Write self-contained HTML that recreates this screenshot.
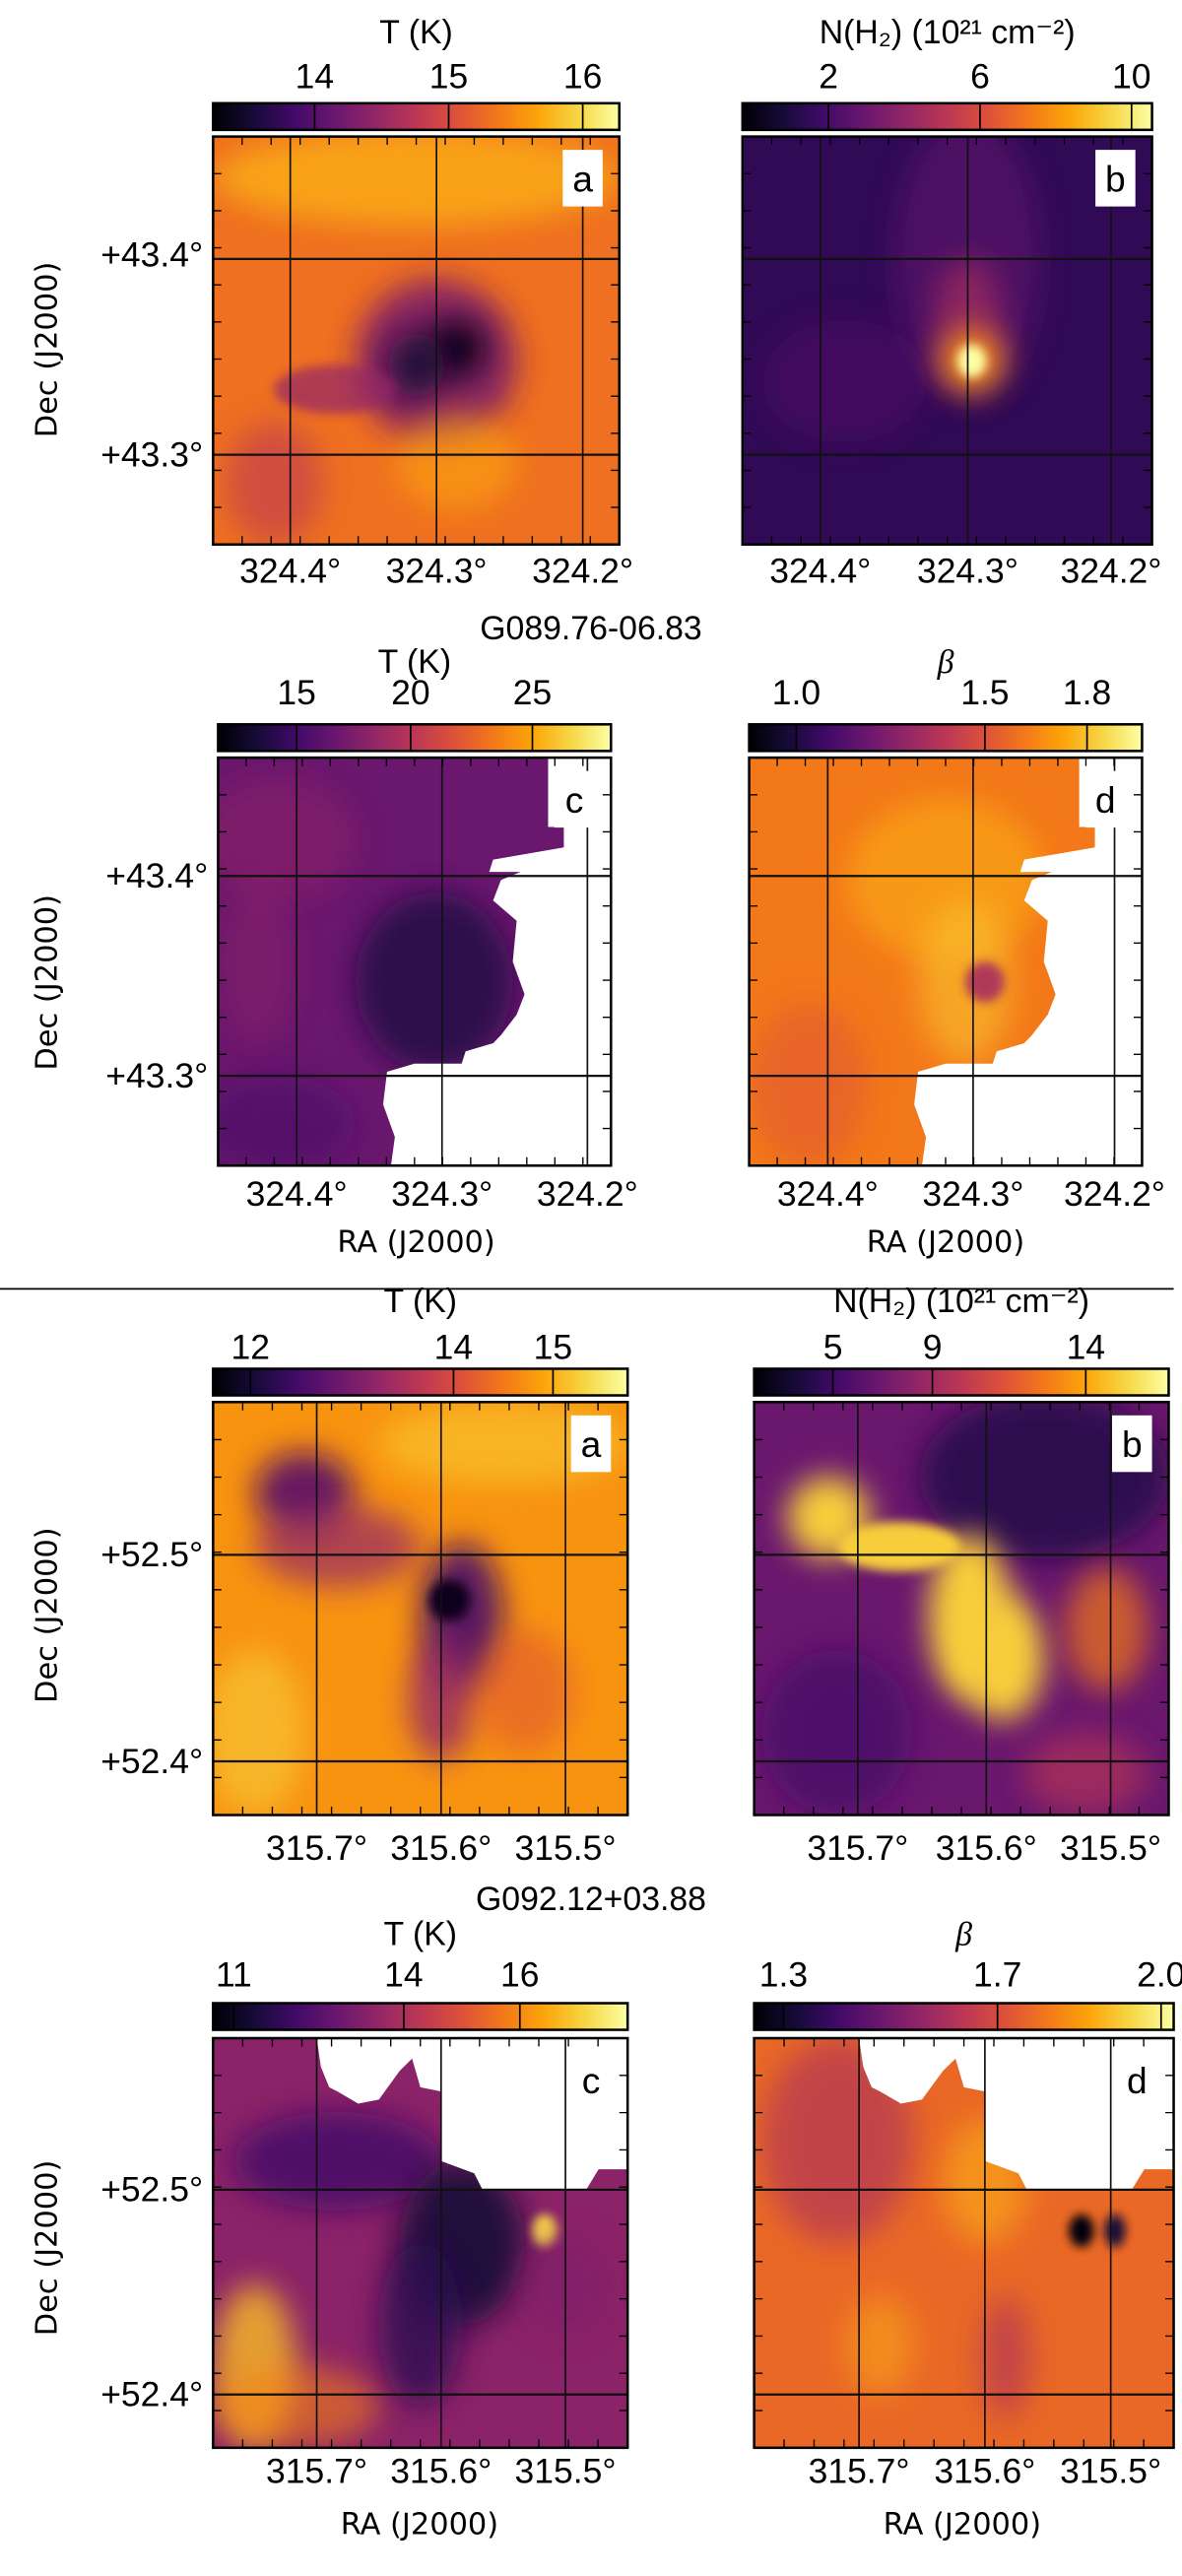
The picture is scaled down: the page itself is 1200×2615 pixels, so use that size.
<!DOCTYPE html>
<html><head><meta charset="utf-8"><style>
html,body{margin:0;padding:0;background:#fff;}
svg{display:block;}
text{font-family:"Liberation Sans Narrow","Liberation Sans",sans-serif;fill:#000;}
</style></head><body>
<svg id="fig" width="1200" height="2615" viewBox="0 0 710 1547" preserveAspectRatio="none" xmlns="http://www.w3.org/2000/svg">
<defs>
<linearGradient id="inferno" x1="0" x2="1" y1="0" y2="0">
<stop offset="0" stop-color="#000004"/><stop offset="0.1" stop-color="#160b39"/><stop offset="0.2" stop-color="#420a68"/><stop offset="0.3" stop-color="#6a176e"/><stop offset="0.4" stop-color="#932667"/><stop offset="0.5" stop-color="#bc3754"/><stop offset="0.6" stop-color="#dd513a"/><stop offset="0.7" stop-color="#f37819"/><stop offset="0.8" stop-color="#fca50a"/><stop offset="0.9" stop-color="#f6d746"/><stop offset="1" stop-color="#fcffa4"/>
</linearGradient>
<filter id="blur" x="-50%" y="-50%" width="200%" height="200%"><feGaussianBlur stdDeviation="9"/></filter>
<filter id="blur2" x="-50%" y="-50%" width="200%" height="200%"><feGaussianBlur stdDeviation="3"/></filter>
</defs>
<line x1="0" y1="774" x2="705" y2="774" stroke="#000" stroke-width="1"/>
<text x="355" y="384" font-size="20" text-anchor="middle">G089.76-06.83</text>
<text x="355" y="1147" font-size="20" text-anchor="middle">G092.12+03.88</text>
<text transform="translate(34,210) rotate(-90)" font-size="18" text-anchor="middle" style="font-family:'DejaVu Sans',sans-serif">Dec (J2000)</text>
<text transform="translate(34,590) rotate(-90)" font-size="18" text-anchor="middle" style="font-family:'DejaVu Sans',sans-serif">Dec (J2000)</text>
<text transform="translate(34,970) rotate(-90)" font-size="18" text-anchor="middle" style="font-family:'DejaVu Sans',sans-serif">Dec (J2000)</text>
<text transform="translate(34,1350) rotate(-90)" font-size="18" text-anchor="middle" style="font-family:'DejaVu Sans',sans-serif">Dec (J2000)</text>
<text x="250" y="752" font-size="18" text-anchor="middle" style="font-family:'DejaVu Sans',sans-serif">RA (J2000)</text>
<text x="568" y="752" font-size="18" text-anchor="middle" style="font-family:'DejaVu Sans',sans-serif">RA (J2000)</text>
<text x="252" y="1522" font-size="18" text-anchor="middle" style="font-family:'DejaVu Sans',sans-serif">RA (J2000)</text>
<text x="578" y="1522" font-size="18" text-anchor="middle" style="font-family:'DejaVu Sans',sans-serif">RA (J2000)</text>
</svg>
<script>
// ---- data ----
const panelNames = ["1a","1b","1c","1d","2a","2b","2c","2d"];
const panelLetters = ["a","b","c","d","a","b","c","d"];
const cbTitles = ["T (K)","N(H₂) (10²¹ cm⁻²)","T (K)","β","T (K)","N(H₂) (10²¹ cm⁻²)","T (K)","β"];
const cbTickLabels = [["14","15","16"],["2","6","10"],["15","20","25"],["1.0","1.5","1.8"],["12","14","15"],["5","9","14"],["11","14","16"],["1.3","1.7","2.0"]];
const cbTickFrac = [[0.25,0.58,0.91],[0.21,0.58,0.95],[0.2,0.49,0.8],[0.12,0.6,0.86],[0.09,0.58,0.82],[0.19,0.43,0.8],[0.05,0.46,0.74],[0.07,0.58,0.97]];
const raLabels = [["324.4°","324.3°","324.2°"],["324.4°","324.3°","324.2°"],["324.4°","324.3°","324.2°"],["324.4°","324.3°","324.2°"],["315.7°","315.6°","315.5°"],["315.7°","315.6°","315.5°"],["315.7°","315.6°","315.5°"],["315.7°","315.6°","315.5°"]];
const raFrac = [[0.19,0.55,0.91],[0.19,0.55,0.90],[0.2,0.57,0.94],[0.2,0.57,0.93],[0.25,0.55,0.85],[0.25,0.56,0.86],[0.25,0.55,0.85],[0.25,0.55,0.85]];
const decLabels = [["+43.4°","+43.3°"],["+43.4°","+43.3°"],["+43.4°","+43.3°"],["+43.4°","+43.3°"],["+52.5°","+52.4°"],["+52.5°","+52.4°"],["+52.5°","+52.4°"],["+52.5°","+52.4°"]];
const decFrac = [[0.29,0.78],[0.29,0.78],[0.29,0.78],[0.29,0.78],[0.37,0.87],[0.37,0.87],[0.37,0.87],[0.37,0.87]];
const baseLevel = [0.68,0.16,0.3,0.7,0.76,0.3,0.38,0.66];
// blobs: [fx, fy, frx, fry, colormap level, opacity]
const blobs = [
 [[0.5,0.1,0.5,0.12,0.82,0.8],[0.55,0.55,0.2,0.2,0.35,0.9],[0.6,0.52,0.07,0.07,0.05,1],[0.5,0.56,0.07,0.08,0.1,0.9],[0.3,0.62,0.15,0.06,0.4,0.7],[0.15,0.85,0.12,0.15,0.5,0.6],[0.6,0.8,0.15,0.12,0.8,0.6]],
 [[0.55,0.3,0.18,0.35,0.28,0.6],[0.25,0.6,0.2,0.15,0.25,0.5],[0.55,0.45,0.08,0.15,0.45,0.7],[0.56,0.55,0.08,0.08,0.75,0.9],[0.56,0.55,0.035,0.04,1,1]],
 [[0.15,0.2,0.2,0.15,0.38,0.6],[0.55,0.55,0.2,0.22,0.12,0.8],[0.1,0.5,0.1,0.2,0.38,0.5],[0.63,0.84,0.06,0.05,0.82,0.9],[0.15,0.9,0.2,0.12,0.22,0.6]],
 [[0.5,0.3,0.25,0.2,0.82,0.6],[0.55,0.55,0.12,0.2,0.86,0.6],[0.6,0.55,0.05,0.05,0.45,0.9],[0.15,0.8,0.15,0.2,0.62,0.6],[0.6,0.85,0.05,0.08,0.2,0.8]],
 [[0.22,0.22,0.12,0.1,0.25,0.9],[0.3,0.35,0.2,0.1,0.4,0.7],[0.6,0.52,0.1,0.18,0.22,0.9],[0.57,0.48,0.05,0.05,0.05,1],[0.55,0.72,0.08,0.15,0.4,0.8],[0.75,0.7,0.12,0.15,0.62,0.6],[0.7,0.1,0.3,0.1,0.86,0.7],[0.1,0.8,0.12,0.2,0.88,0.6]],
 [[0.7,0.18,0.3,0.2,0.14,0.9],[0.18,0.28,0.1,0.1,0.88,1],[0.35,0.35,0.15,0.06,0.88,1],[0.52,0.52,0.1,0.2,0.88,1],[0.6,0.62,0.1,0.15,0.88,1],[0.2,0.8,0.18,0.2,0.2,0.7],[0.85,0.55,0.1,0.15,0.7,0.7],[0.8,0.9,0.15,0.1,0.5,0.6]],
 [[0.3,0.3,0.25,0.12,0.22,0.9],[0.6,0.5,0.15,0.2,0.1,0.9],[0.5,0.7,0.1,0.2,0.15,0.8],[0.1,0.8,0.1,0.2,0.85,0.8],[0.2,0.9,0.2,0.1,0.72,0.6],[0.8,0.47,0.03,0.04,0.9,1],[0.85,0.6,0.1,0.12,0.35,0.6]],
 [[0.2,0.25,0.18,0.25,0.45,0.6],[0.55,0.35,0.1,0.15,0.82,0.6],[0.78,0.47,0.03,0.04,0.02,1],[0.86,0.47,0.025,0.04,0.1,1],[0.6,0.78,0.06,0.15,0.45,0.6],[0.3,0.75,0.08,0.12,0.82,0.5]]
];
// white (no-data) masks in panel fractions
const maskC1 = [[0.84,0],[1,0],[1,1],[0.44,1],[0.45,0.93],[0.42,0.85],[0.43,0.77],[0.5,0.75],[0.62,0.75],[0.63,0.72],[0.7,0.7],[0.72,0.68],[0.76,0.63],[0.78,0.58],[0.75,0.5],[0.76,0.4],[0.7,0.35],[0.72,0.3],[0.77,0.28],[0.69,0.28],[0.7,0.25],[0.88,0.22],[0.88,0.17],[0.84,0.17]];
const maskC2 = [[0.25,0],[1,0],[1,0.32],[0.93,0.32],[0.9,0.37],[0.65,0.37],[0.63,0.33],[0.55,0.3],[0.55,0.13],[0.5,0.12],[0.48,0.05],[0.45,0.08],[0.4,0.15],[0.35,0.16],[0.3,0.13],[0.28,0.12],[0.26,0.07]];
const masks = [null,null,maskC1,maskC1,null,null,maskC2,maskC2];
// ---- layout ----
const layout = [
 {x:128,y:82,w:244,h:245,cby:62,ty:26,tky:53,ray:350,grid:[0.19,0.55,0.91],gridY:[0.3,0.78]},
 {x:446,y:82,w:246,h:245,cby:62,ty:26,tky:53,ray:350,grid:[0.19,0.55,0.90],gridY:[0.3,0.78]},
 {x:131,y:455,w:236,h:245,cby:435,ty:404,tky:423,ray:724,grid:[0.2,0.57,0.94],gridY:[0.29,0.78]},
 {x:450,y:455,w:236,h:245,cby:435,ty:404,tky:423,ray:724,grid:[0.2,0.57,0.93],gridY:[0.29,0.78]},
 {x:128,y:842,w:249,h:248,cby:822,ty:788,tky:816,ray:1117,grid:[0.25,0.55,0.85],gridY:[0.37,0.87]},
 {x:453,y:842,w:249,h:248,cby:822,ty:788,tky:816,ray:1117,grid:[0.25,0.56,0.86],gridY:[0.37,0.87]},
 {x:128,y:1224,w:249,h:246,cby:1203,ty:1168,tky:1193,ray:1491,grid:[0.25,0.55,0.85],gridY:[0.37,0.87]},
 {x:453,y:1224,w:252,h:246,cby:1203,ty:1168,tky:1193,ray:1491,grid:[0.25,0.55,0.85],gridY:[0.37,0.87]}
];
const stops=[[0,"#000004"],[0.1,"#160b39"],[0.2,"#420a68"],[0.3,"#6a176e"],[0.4,"#932667"],[0.5,"#bc3754"],[0.6,"#dd513a"],[0.7,"#f37819"],[0.8,"#fca50a"],[0.9,"#f6d746"],[1,"#fcffa4"]];
function cmap(v){v=Math.max(0,Math.min(1,v));for(let i=1;i<stops.length;i++){if(v<=stops[i][0]){const a=stops[i-1],b=stops[i];const t=(v-a[0])/(b[0]-a[0]);const ca=[1,3,5].map(k=>parseInt(a[1].substr(k,2),16)),cb=[1,3,5].map(k=>parseInt(b[1].substr(k,2),16));return "rgb("+ca.map((c,j)=>Math.round(c+(cb[j]-c)*t)).join(",")+")";}}return stops[10][1];}
const NS="http://www.w3.org/2000/svg";
const svg=document.getElementById("fig");
function mk(tag,attrs,parent){const e=document.createElementNS(NS,tag);for(const k in attrs)e.setAttribute(k,attrs[k]);(parent||svg).appendChild(e);return e;}
const defs=svg.querySelector("defs");
panelNames.forEach((pn,i)=>{
 const L=layout[i];
 const sx=f=>L.x+f*L.w, sy=f=>L.y+f*L.h;
 const g=mk("g",{});
 
 
 const cb=mk("rect",{x:L.x,y:L.cby,width:L.w,height:16,fill:"url(#inferno)",stroke:"#000","stroke-width":1.5},g);
 
 
 const tt=mk("text",{x:L.x+L.w/2,y:L.ty,"font-size":20,"text-anchor":"middle"},g);
 tt.textContent=cbTitles[i];
 if(cbTitles[i]==="β"){tt.setAttribute("font-style","italic");tt.setAttribute("style","font-family:'Liberation Serif',serif");}
 
 
 cbTickLabels[i].forEach((lab,k)=>{
  const x=sx(cbTickFrac[i][k]);
  mk("line",{x1:x,x2:x,y1:L.cby,y2:L.cby+16,stroke:"#000","stroke-width":1},g);
  const t=mk("text",{x:x,y:L.tky,"font-size":21,"text-anchor":"middle"},g);
  t.textContent=lab;
  
  
 });
 const cp=mk("clipPath",{id:"clip"+pn},defs);
 mk("rect",{x:L.x,y:L.y,width:L.w,height:L.h},cp);
 const mg=mk("g",{"clip-path":"url(#clip"+pn+")"},g);
 
 
 mk("rect",{x:L.x,y:L.y,width:L.w,height:L.h,fill:cmap(baseLevel[i])},mg);
 blobs[i].forEach(b=>{
  const small=Math.min(b[2]*L.w,b[3]*L.h)<15;
  const e=mk("ellipse",{cx:sx(b[0]),cy:sy(b[1]),rx:b[2]*L.w,ry:b[3]*L.h,fill:cmap(b[4]),opacity:b[5],filter:small?"url(#blur2)":"url(#blur)"},mg);
  
  
 });
 if(masks[i]){
  const p=mk("polygon",{points:masks[i].map(q=>sx(q[0])+","+sy(q[1])).join(" "),fill:"#fff"},mg);
  
  
 }
 L.grid.forEach(f=>mk("line",{x1:sx(f),x2:sx(f),y1:L.y,y2:L.y+L.h,stroke:"#111","stroke-width":1},mg));
 L.gridY.forEach(f=>mk("line",{x1:L.x,x2:L.x+L.w,y1:sy(f),y2:sy(f),stroke:"#111","stroke-width":1.3},mg));
 for(let k=1;k<14;k++){const x=L.x+k*L.w/14;mk("line",{x1:x,x2:x,y1:L.y,y2:L.y+5,stroke:"#000","stroke-width":0.8},mg);mk("line",{x1:x,x2:x,y1:L.y+L.h,y2:L.y+L.h-5,stroke:"#000","stroke-width":0.8},mg);}
 for(let k=1;k<11;k++){const y=L.y+k*L.h/11;mk("line",{x1:L.x,x2:L.x+5,y1:y,y2:y,stroke:"#000","stroke-width":0.8},mg);mk("line",{x1:L.x+L.w,x2:L.x+L.w-5,y1:y,y2:y,stroke:"#000","stroke-width":0.8},mg);}
 const bw=24,bh=34,bx=L.x+L.w-bw-10,by=L.y+8;
 mk("rect",{x:bx,y:by,width:bw,height:bh,fill:"#fff"},g);
 const lt=mk("text",{x:bx+bw/2,y:by+25,"font-size":22,"text-anchor":"middle"},g);
 lt.textContent=panelLetters[i];
 
 
 const fr=mk("rect",{x:L.x,y:L.y,width:L.w,height:L.h,fill:"none",stroke:"#000","stroke-width":1.5},g);
 
 
 raLabels[i].forEach((lab,k)=>{
  const t=mk("text",{x:sx(raFrac[i][k]),y:L.ray,"font-size":21,"text-anchor":"middle"},g);
  t.textContent=lab;
  
  
 });
 if(i%2===0){
  decLabels[i].forEach((lab,k)=>{
   const t=mk("text",{x:L.x-6,y:sy(decFrac[i][k])+7,"font-size":21,"text-anchor":"end"},g);
   t.textContent=lab;
   
   
  });
 }
});
</script>
</body></html>
